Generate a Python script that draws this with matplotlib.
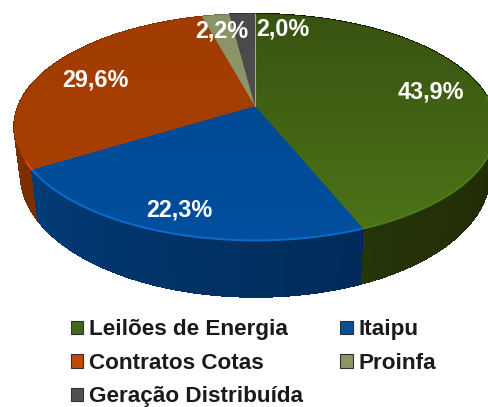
import matplotlib
matplotlib.use("Agg")
import matplotlib.pyplot as plt
from matplotlib.collections import PolyCollection
from matplotlib.colors import to_rgb
from matplotlib.patches import Patch, Polygon
import numpy as np

labels = ["Leilões de Energia", "Itaipu", "Contratos Cotas", "Proinfa", "Geração Distribuída"]
values = [43.9, 22.3, 29.6, 2.2, 2.0]

top_dark = ["#395310", "#00478f", "#a03c00", "#8a9468", "#4a4a4a"]
top_light = ["#4b7518", "#004f9e", "#aa4000", "#8f9a6c", "#505050"]
side_from = ["#263409", "#023c78", "#7c2e00", "#6a7250", "#333333"]
side_to = ["#0f1700", "#002a58", "#8c3400", "#6a7250", "#333333"]
rim = ["#4f7c1c", "#0a6ccc", "#e04c00", "#9aa578", "#666666"]
rim_limit = [0.1, 0.1, -0.45, -1.0, -1.0]
legend_color = ["#44691a", "#0a4f96", "#c24a08", "#8c9668", "#505050"]
label_pos = [(431, 92), (179, 210), (95, 80), (222, 31), (283, 29)]


def project(theta):
    # circle seen in perspective, the far side comes out smaller
    u = np.sin(theta)
    v = np.cos(theta)
    w = 1 + 0.186 * v
    return 252 + (236.5 * u + 3) / w, 106 - 109 * v / w


def lower(x, y):
    return 252 + (x - 252) * 0.973, 152 + 1.08 * (y - 106)


fig = plt.figure(figsize=(4.89, 4.07), dpi=100)
ax = fig.add_axes([0, 0, 1, 1])

edges = np.cumsum([0] + values) / sum(values) * 2 * np.pi

# side wall, back to front
quads = []
colors = []
depth = []
for i in range(len(values)):
    t = np.linspace(edges[i], edges[i + 1], int(values[i] * 4) + 2)
    x, y = project(t)
    xb, yb = lower(x, y)
    c0 = np.array(to_rgb(side_from[i]))
    c1 = np.array(to_rgb(side_to[i]))
    for j in range(len(t) - 1):
        f = j / (len(t) - 1)
        # these two run right to left, so the dark end comes first
        if i < 2:
            f = 1 - f
        quads.append([(x[j], y[j]), (x[j + 1], y[j + 1]), (xb[j + 1], yb[j + 1]), (xb[j], yb[j])])
        colors.append(c0 + (c1 - c0) * f)
        depth.append(np.cos(t[j]))
order = np.argsort(-np.array(depth))
pc = PolyCollection([quads[k] for k in order], facecolors=[colors[k] for k in order],
                    edgecolors=[colors[k] for k in order], linewidths=1.0, antialiaseds=False)
ax.add_collection(pc)

# top face
for i in range(len(values)):
    t = np.linspace(edges[i], edges[i + 1], int(values[i] * 4) + 2)
    x, y = project(t)
    pts = np.column_stack([np.r_[255, x], np.r_[106, y]])
    poly = Polygon(pts, closed=True, facecolor=top_dark[i], edgecolor=top_dark[i], linewidth=0.4)
    ax.add_patch(poly)
    grad = np.linspace(to_rgb(top_dark[i]), to_rgb(top_light[i]), 64)[:, None, :]
    im = ax.imshow(grad, extent=(0, 489, 240, 14), aspect="auto", zorder=2)
    im.set_clip_path(poly)
    # bright rim on the front edge
    front = np.cos(t) < rim_limit[i]
    if front.any():
        ax.plot(x[front], y[front] + 0.5, color=rim[i], lw=1.4, zorder=3, solid_capstyle="butt")

# thin light line between gray and green
ax.plot([255, 255], [106, 14], color="#a8a8a0", lw=0.8, zorder=3)

for val, pos in zip(values, label_pos):
    ax.text(pos[0], pos[1], f"{val:.1f}%".replace(".", ","), color="white", fontsize=16.8,
            fontweight="bold", family="Liberation Sans", ha="center", va="center", zorder=5)

col_order = [0, 2, 4, 1, 3]
handles = [Patch(facecolor=legend_color[i], edgecolor="#303030", linewidth=0.8, label=labels[i]) for i in col_order]
ax.legend(handles=handles, ncol=2, frameon=False, loc="upper left", bbox_to_anchor=(71, 319.5),
          bbox_transform=ax.transData, borderpad=0, borderaxespad=0,
          handlelength=0.55, handleheight=0.55, handletextpad=0.25, labelspacing=0.55, columnspacing=1.65,
          prop={"family": "Liberation Sans", "weight": "bold", "size": 16.2}, labelcolor="#1a1a1a")

ax.set_xlim(0, 489)
ax.set_ylim(407, 0)
ax.axis("off")

fig.savefig("out.png", dpi=100)
